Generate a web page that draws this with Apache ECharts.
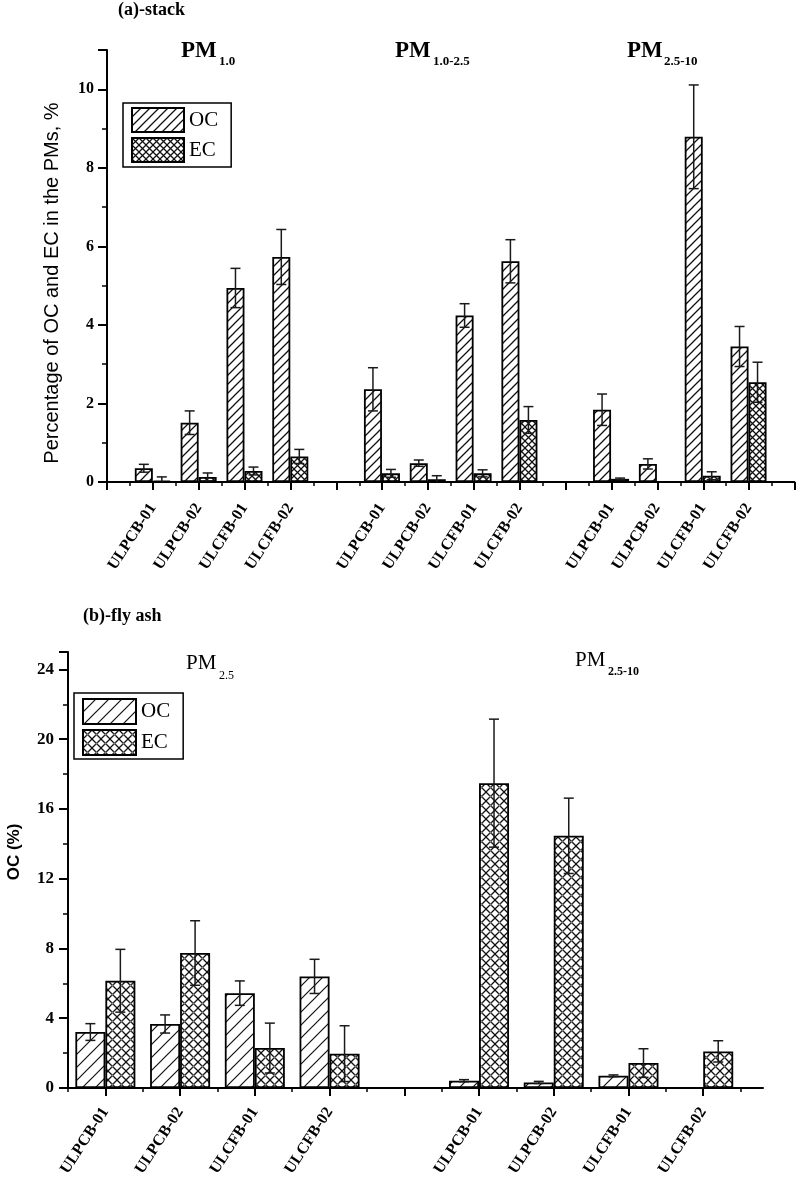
<!DOCTYPE html>
<html><head><meta charset="utf-8">
<script src="https://cdn.jsdelivr.net/npm/echarts@6/dist/echarts.min.js"></script>
<style>html,body{margin:0;padding:0;background:#fff}#c{width:796px;height:1187px}</style>
</head><body><div id="c"></div>
<script>
// ---------- data ----------
const samples = ['ULPCB-01', 'ULPCB-02', 'ULCFB-01', 'ULCFB-02'];
const groupsA = ['PM1.0', 'PM1.0-2.5', 'PM2.5-10'];
const groupsB = ['PM2.5', 'PM2.5-10'];
// (a)-stack  (order: group by group, samples within)
const ocA    = [0.35, 1.51, 4.94, 5.73,  2.36, 0.48, 4.24, 5.62,  1.84, 0.46, 8.79, 3.45];
const ocAErr = [0.10, 0.30, 0.50, 0.70,  0.55, 0.08, 0.30, 0.55,  0.40, 0.13, 1.32, 0.51];
const ecA    = [0.03, 0.13, 0.28, 0.65,  0.22, 0.07, 0.22, 1.58,  0.08, 0.00, 0.16, 2.54];
const ecAErr = [0.10, 0.10, 0.10, 0.18,  0.10, 0.09, 0.09, 0.34,  0.02, 0.00, 0.10, 0.51];
// (b)-fly ash
const ocB    = [3.21, 3.67, 5.44, 6.40,  0.42, 0.32, 0.70, 0.00];
const ocBErr = [0.48, 0.52, 0.70, 0.98,  0.06, 0.06, 0.05, 0.00];
const ecB    = [6.15, 7.74, 2.29, 1.97,  17.48, 14.46, 1.43, 2.10];
const ecBErr = [1.80, 1.85, 1.43, 1.60,  3.67, 2.16, 0.82, 0.61];
const yTicksA = [0, 2, 4, 6, 8, 10];
const yTicksB = [0, 4, 8, 12, 16, 20, 24];

// ---------- helpers ----------
const SERIF = 'Liberation Serif';
const SANS = 'Liberation Sans';
function posOf(k) { return Math.floor(k / 4) * 5 + (k % 4) + 1; }
const xPosA = ocA.map((_, k) => posOf(k));
const xPosB = ocB.map((_, k) => posOf(k));
const nameAt = {};
xPosA.forEach((p, k) => nameAt[p] = samples[k % 4]);

function hatchCanvas(p, lw) {
  const c = document.createElement('canvas'); c.width = p; c.height = p;
  const g = c.getContext('2d');
  g.fillStyle = '#fff'; g.fillRect(0, 0, p, p);
  g.strokeStyle = '#111'; g.lineWidth = lw;
  g.beginPath();
  g.moveTo(-1, p + 1); g.lineTo(p + 1, -1);
  g.moveTo(-2, 2); g.lineTo(2, -2);
  g.moveTo(p - 2, p + 2); g.lineTo(p + 2, p - 2);
  g.stroke();
  return c;
}
function crossCanvas(p, lw, dot) {
  const c = document.createElement('canvas'); c.width = p; c.height = p;
  const g = c.getContext('2d');
  g.fillStyle = '#fff'; g.fillRect(0, 0, p, p);
  g.strokeStyle = '#111'; g.lineWidth = lw;
  g.beginPath();
  g.moveTo(-1, p + 1); g.lineTo(p + 1, -1);
  g.moveTo(-1, -1); g.lineTo(p + 1, p + 1);
  g.stroke();
  if (dot) { g.fillStyle = '#888'; g.fillRect(p / 2 - 1, p / 2 - 1, 2, 2); }
  return c;
}
const patOCa = { image: hatchCanvas(9, 1.3), repeat: 'repeat' };
const patECa = { image: crossCanvas(7, 1.3, false), repeat: 'repeat' };
const patOCb = { image: hatchCanvas(13, 1.2), repeat: 'repeat' };
const patECb = { image: crossCanvas(9, 1.3, true), repeat: 'repeat' };

function errSeries(name, xAxisIndex, yAxisIndex, xs, vals, errs, side, bw, cap) {
  return {
    type: 'custom', name: name, xAxisIndex, yAxisIndex, z: 5, silent: true,
    data: xs.map((x, k) => [x, vals[k], errs[k]]),
    renderItem: function (params, api) {
      const x = api.value(0), v = api.value(1), e = api.value(2);
      if (!e) return;
      const cx = api.coord([x, v])[0] + side * bw / 2;
      const yt = api.coord([x, v + e])[1];
      const lo = Math.max(0, v - e);
      const yb = api.coord([x, lo])[1];
      const st = { stroke: '#1a1a1a', lineWidth: 1.5 };
      const ch = [
        { type: 'line', shape: { x1: cx, y1: yt, x2: cx, y2: yb }, style: st },
        { type: 'line', shape: { x1: cx - cap, y1: yt, x2: cx + cap, y2: yt }, style: st }
      ];
      if (v - e > 0) ch.push({ type: 'line', shape: { x1: cx - cap, y1: yb, x2: cx + cap, y2: yb }, style: st });
      return { type: 'group', children: ch };
    }
  };
}

const BWA = 18, BWB = 30;
const barStyle = (pat) => ({ color: pat, borderColor: '#000', borderWidth: 1.8 });
const labelFont = { fontFamily: SERIF, fontWeight: 'bold', color: '#000' };

const GA = { left: 107, right: 1, top: 50, bottom: 705 };
const GB = { left: 68, right: 33, top: 652, bottom: 99 };
const unitB = (796 - GB.left - GB.right) / (9.8 - 0.5);

function tickOnlyX(gridIndex, min, max, len, w, minor) {
  return {
    type: 'value', gridIndex, min, max, interval: 1, z: 20,
    splitLine: { show: false },
    axisLine: { show: false, onZero: false },
    axisTick: { show: true, length: len, lineStyle: { color: '#000', width: w } },
    minorTick: minor ? { show: true, splitNumber: 2, length: 4, lineStyle: { color: '#000', width: 1.5 } } : { show: false },
    axisLabel: { show: false }
  };
}
function hiddenY(gridIndex) {
  return { type: 'value', gridIndex, min: 0, max: 1, show: false };
}

const option = {
  backgroundColor: '#fff',
  animation: false,
  grid: [
    GA,
    GB,
    // bottom major ticks 1..9
    { left: GB.left + 0.5 * unitB, right: GB.right + 0.8 * unitB, top: GB.top, bottom: GB.bottom },
    // bottom minor ticks 0.5..9.5
    { left: GB.left, right: GB.right + 0.3 * unitB, top: GB.top, bottom: GB.bottom },
    // top ticks overlay
    Object.assign({}, GA)
  ],
  legend: [
    {
      data: ['OC', 'EC'], orient: 'vertical', left: 123, top: 103,
      borderColor: '#000', borderWidth: 1.5, padding: [4, 13, 4, 8], itemGap: 4,
      itemWidth: 52, itemHeight: 24, icon: 'rect', selectedMode: false,
      textStyle: { fontFamily: SERIF, fontSize: 21, color: '#000' }
    },
    {
      data: ['OC_b', 'EC_b'], orient: 'vertical', left: 74, top: 693,
      borderColor: '#000', borderWidth: 1.5, padding: [5, 13, 3, 8], itemGap: 4,
      itemWidth: 53, itemHeight: 25, icon: 'rect', selectedMode: false,
      formatter: n => n.replace('_b', ''),
      textStyle: { fontFamily: SERIF, fontSize: 21, color: '#000' }
    }
  ],
  xAxis: [
    {
      type: 'value', gridIndex: 0, min: 0, max: 15, interval: 1,
      splitLine: { show: false },
      axisLine: { onZero: false, lineStyle: { color: '#000', width: 2 } },
      axisTick: { show: false },
      axisLabel: Object.assign({ fontSize: 16, rotate: 57, margin: 23, formatter: v => nameAt[v] || '' }, labelFont)
    },
    {
      type: 'value', gridIndex: 1, min: 0.5, max: 9.8, interval: 0.5,
      splitLine: { show: false },
      axisLine: { onZero: false, lineStyle: { color: '#000', width: 2 } },
      axisTick: { show: false },
      axisLabel: Object.assign({ fontSize: 16, rotate: 57, margin: 21, formatter: v => nameAt[v] || '' }, labelFont)
    },
    tickOnlyX(2, 1, 9, 8, 2, false),
    tickOnlyX(3, 0.5, 9.5, 4, 1.5, false),
    tickOnlyX(4, 0, 15, 8, 2, true)
  ],
  yAxis: [
    {
      type: 'value', gridIndex: 0, min: 0, max: 11, interval: 2,
      splitLine: { show: false },
      axisLine: { show: true, lineStyle: { color: '#000', width: 2 } },
      axisTick: { show: true, length: 9, lineStyle: { color: '#000', width: 2 } },
      minorTick: { show: true, splitNumber: 2, length: 5, lineStyle: { color: '#000', width: 1.5 } },
      axisLabel: Object.assign({ fontSize: 16, margin: 13, customValues: yTicksA }, labelFont)
    },
    {
      type: 'value', gridIndex: 1, min: 0, max: 25, interval: 4,
      splitLine: { show: false },
      axisLine: { show: true, lineStyle: { color: '#000', width: 2 } },
      axisTick: { show: true, length: 9, lineStyle: { color: '#000', width: 2 } },
      minorTick: { show: true, splitNumber: 2, length: 5, lineStyle: { color: '#000', width: 1.5 } },
      axisLabel: Object.assign({ fontSize: 17, margin: 14, customValues: yTicksB }, labelFont)
    },
    hiddenY(2),
    hiddenY(3),
    hiddenY(4)
  ],
  series: [
    { type: 'bar', name: 'OC', xAxisIndex: 0, yAxisIndex: 0, barWidth: BWA, barGap: '0%',
      data: xPosA.map((x, k) => [x, ocA[k]]), itemStyle: barStyle(patOCa) },
    { type: 'bar', name: 'EC', xAxisIndex: 0, yAxisIndex: 0, barWidth: BWA, barGap: '0%',
      data: xPosA.map((x, k) => [x, ecA[k]]), itemStyle: barStyle(patECa) },
    errSeries('errOCa', 0, 0, xPosA, ocA, ocAErr, -1, BWA, 5),
    errSeries('errECa', 0, 0, xPosA, ecA, ecAErr, 1, BWA, 5),
    { type: 'bar', name: 'OC_b', xAxisIndex: 1, yAxisIndex: 1, barWidth: BWB, barGap: '0%',
      data: xPosB.map((x, k) => [x, ocB[k]]), itemStyle: barStyle(patOCb) },
    { type: 'bar', name: 'EC_b', xAxisIndex: 1, yAxisIndex: 1, barWidth: BWB, barGap: '0%',
      data: xPosB.map((x, k) => [x, ecB[k]]), itemStyle: barStyle(patECb) },
    errSeries('errOCb', 1, 1, xPosB, ocB, ocBErr, -1, BWB, 5),
    errSeries('errECb', 1, 1, xPosB, ecB, ecBErr, 1, BWB, 5)
  ],
  graphic: [
    { type: 'text', left: 118, top: 1, style: { text: '(a)-stack', font: 'bold 18px ' + SERIF, fill: '#000' } },
    { type: 'text', left: 83, top: 607, style: { text: '(b)-fly ash', font: 'bold 18px ' + SERIF, fill: '#000' } },
    // group titles (a)
    { type: 'text', left: 181, top: 40, style: { text: 'PM', font: 'bold 23px ' + SERIF, fill: '#000' } },
    { type: 'text', left: 219, top: 55, style: { text: '1.0', font: 'bold 13px ' + SERIF, fill: '#000' } },
    { type: 'text', left: 395, top: 40, style: { text: 'PM', font: 'bold 23px ' + SERIF, fill: '#000' } },
    { type: 'text', left: 433, top: 55, style: { text: '1.0-2.5', font: 'bold 13px ' + SERIF, fill: '#000' } },
    { type: 'text', left: 627, top: 40, style: { text: 'PM', font: 'bold 23px ' + SERIF, fill: '#000' } },
    { type: 'text', left: 664, top: 55, style: { text: '2.5-10', font: 'bold 13px ' + SERIF, fill: '#000' } },
    // group titles (b)
    { type: 'text', left: 186, top: 653, style: { text: 'PM', font: '21px ' + SERIF, fill: '#000' } },
    { type: 'text', left: 219, top: 670, style: { text: '2.5', font: '12px ' + SERIF, fill: '#000' } },
    { type: 'text', left: 575, top: 650, style: { text: 'PM', font: '21px ' + SERIF, fill: '#000' } },
    { type: 'text', left: 608, top: 666, style: { text: '2.5-10', font: 'bold 12px ' + SERIF, fill: '#000' } },
    // y axis names
    { type: 'text', x: 52, y: 283, rotation: Math.PI / 2,
      style: { text: 'Percentage of OC and EC in the PMs, %', font: '20px ' + SANS, fill: '#000', align: 'center', verticalAlign: 'middle' } },
    { type: 'text', x: 14, y: 852, rotation: Math.PI / 2,
      style: { text: 'OC (%)', font: 'bold 17px ' + SANS, fill: '#000', align: 'center', verticalAlign: 'middle' } }
  ]
};

const chart = echarts.init(document.getElementById('c'), null, { renderer: 'canvas' });
chart.setOption(option);
</script>
</body></html>
